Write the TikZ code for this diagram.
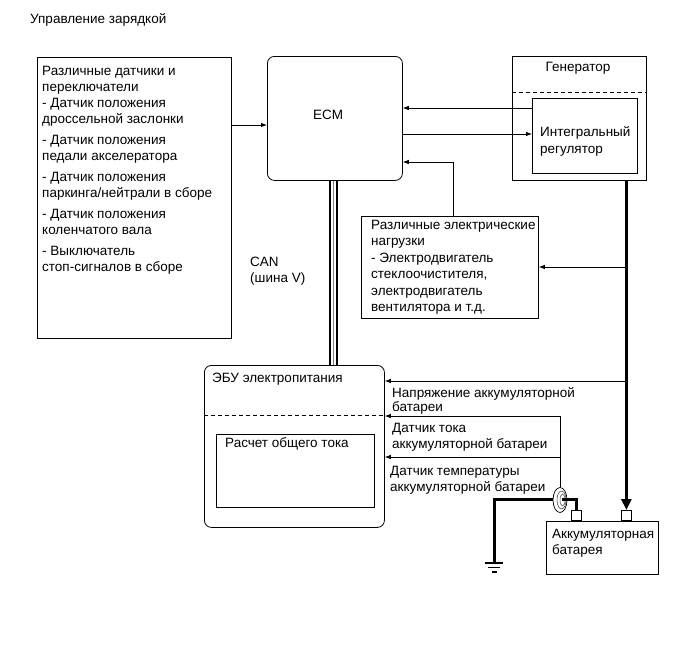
\documentclass[tikz,border=0pt]{standalone}
\usepackage{fontspec}
\setmainfont{Liberation Sans}
\usetikzlibrary{arrows.meta,calc,shapes.geometric}
\begin{document}
\begin{tikzpicture}[x=1pt,y=-1pt,
  box/.style={draw,line width=0.8pt,inner sep=0pt,anchor=north west},
  lbl/.style={anchor=base west,inner sep=0pt,font=\fontsize{13.5}{16}\selectfont},
  arr/.style={line width=0.8pt,-{Latex[length=6pt,width=4.5pt]}},
  wire/.style={line width=0.8pt},
  thickwire/.style={line width=3pt},
  cut/.style={line width=0.8pt,dash pattern=on 4pt off 3pt},
]
\useasboundingbox (0,0) rectangle (687,662);

% title
\node[lbl] (title) at (30,23) {Управление зарядкой};

% boxes
\node[box,minimum width=194pt,minimum height=281pt] (sens) at (37,57) {};
\node[box,rounded corners=7pt,minimum width=135pt,minimum height=124pt] (ecm) at (267,56) {};
\node[box,minimum width=134pt,minimum height=124pt] (gen) at (512,56) {};
\node[box,minimum width=105pt,minimum height=75pt] (reg) at (532,98) {};
\node[box,minimum width=177pt,minimum height=102pt] (loads) at (361,216) {};
\node[box,rounded corners=7pt,minimum width=180pt,minimum height=162pt] (ecu) at (204,365) {};
\node[box,minimum width=158pt,minimum height=73pt] (calc) at (216,434) {};
\node[box,minimum width=112pt,minimum height=53pt] (batt) at (546,521) {};
\node[box,minimum width=10pt,minimum height=10pt] (tn) at (571,510) {};
\node[box,minimum width=10pt,minimum height=10pt] (tp) at (621,510) {};

% dashed separators
\draw[cut] (gen.west |- 0,92) -- (gen.east |- 0,92);
\draw[cut] (ecu.west |- 0,415) -- (ecu.east |- 0,415);

% texts: sensors
\node[lbl] (s1) at (42,75) {Различные датчики и};
\node[lbl] (s2) at (42,91) {переключатели};
\node[lbl] (s3) at (42,107) {- Датчик положения};
\node[lbl] (s4) at (42,123) {дроссельной заслонки};
\node[lbl] (s5) at (42,144) {- Датчик положения};
\node[lbl] (s6) at (42,160) {педали акселератора};
\node[lbl] (s7) at (42,181) {- Датчик положения};
\node[lbl] (s8) at (42,197) {паркинга/нейтрали в сборе};
\node[lbl] (s9) at (42,218) {- Датчик положения};
\node[lbl] (s10) at (42,234) {коленчатого вала};
\node[lbl] (s11) at (42,255) {- Выключатель};
\node[lbl] (s12) at (42,271) {стоп-сигналов в сборе};

\node[font=\fontsize{13.5}{16}\selectfont,inner sep=0pt] (ecmt) at (328,115) {ECM};
\node[font=\fontsize{13.5}{16}\selectfont,inner sep=0pt] (gent) at (578,68) {Генератор};
\node[lbl] (r1) at (540,136) {Интегральный};
\node[lbl] (r2) at (540,153) {регулятор};

\node[lbl] (l1) at (371,229) {Различные электрические};
\node[lbl] (l2) at (371,245) {нагрузки};
\node[lbl] (l3) at (371,262) {- Электродвигатель};
\node[lbl] (l4) at (371,278) {стеклоочистителя,};
\node[lbl] (l5) at (371,295) {электродвигатель};
\node[lbl] (l6) at (371,311) {вентилятора и т.д.};

\node[lbl] (can1) at (250,266) {CAN};
\node[lbl] (can2) at (250,282) {(шина V)};

\node[lbl] (e1) at (212,382) {ЭБУ электропитания};
\node[lbl] (c1) at (225,447) {Расчет общего тока};

\node[lbl] (v1) at (392,397) {Напряжение аккумуляторной};
\node[lbl] (v2) at (392,411) {батареи};
\node[lbl] (i1) at (392,432) {Датчик тока};
\node[lbl] (i2) at (392,448) {аккумуляторной батареи};
\node[lbl] (t1) at (390,475) {Датчик температуры};
\node[lbl] (t2) at (390,491) {аккумуляторной батареи};

\node[lbl] (b1) at (552,538) {Аккумуляторная};
\node[lbl] (b2) at (552,554) {батарея};

% connectors
\draw[arr] (sens.east |- 0,125) -- (ecm.west |- 0,125);
\draw[arr] (reg.west |- 0,108) -- (ecm.east |- 0,108);
\draw[arr] (ecm.east |- 0,134) -- (reg.west |- 0,134);
\draw[arr] (loads.north -| 453,0) |- (ecm.east |- 0,162);

% CAN bus
\draw[line width=1.6pt] (ecm.south -| 330,0) -- (ecu.north -| 330,0);
\draw[line width=1.6pt,gray] (ecm.south -| 333.3,0) -- (ecu.north -| 333.3,0);
\draw[line width=1.6pt] (ecm.south -| 337,0) -- (ecu.north -| 337,0);

% main thick wire
\draw[thickwire,-{Triangle[length=11pt,width=10pt]}] (gen.south -| tp.north) -- (tp.north);
\draw[arr] (tp.north |- 0,267) -- (loads.east |- 0,267);
\draw[arr] (tp.north |- 0,381) -- (ecu.east |- 0,381);

% ground wire
\coordinate (gnd) at (494,562);
\draw[thickwire] (tn.north) |- (gnd |- 0,499) -- (gnd);
\draw[line width=1.8pt] (485,563) -- (503,563);
\draw[line width=1.8pt] (488,567.5) -- (500,567.5);
\draw[line width=1.8pt] (491.5,572) -- (496.5,572);

% current sensor ring
\node[draw,ellipse,fill=white,line width=0.7pt,minimum width=14pt,minimum height=25pt,inner sep=0pt] (ring) at (560,500) {};
\draw[line width=0.6pt,gray!60!black] (561.5,500) ellipse [x radius=4.5pt,y radius=9pt];
\draw[line width=0.5pt,gray!60!black] (562.5,500) ellipse [x radius=2.5pt,y radius=6pt];
\draw[thickwire] (562,499) -- (567,499);
\draw[arr] (ring.north) -- (ring.north |- 0,416) -- (ecu.east |- 0,416);
\draw[arr] (ring.north |- 0,457) -- (ecu.east |- 0,457);
\end{tikzpicture}
\end{document}
